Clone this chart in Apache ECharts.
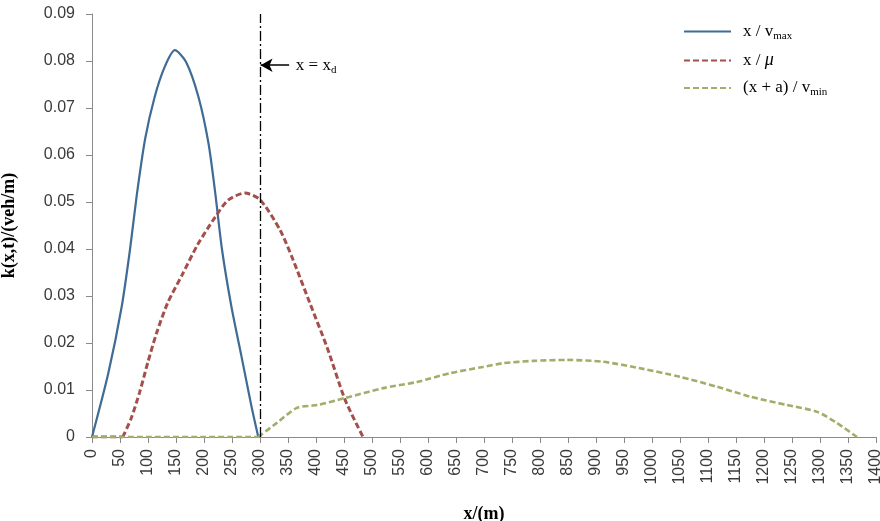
<!DOCTYPE html>
<html>
<head>
<meta charset="utf-8">
<script src="https://cdn.jsdelivr.net/npm/echarts@6/dist/echarts.min.js"></script>
<style>html,body{margin:0;padding:0;background:#fff;}#c{width:880px;height:521px;}</style>
</head>
<body>
<div id="c"></div>
<script>
// x/vmax (solid blue)
const blueX = [0, 29, 53, 68, 80, 95, 112, 130, 148, 168, 190, 208, 220, 232, 249, 267, 285, 297];
const blueY = [0, 0.0135, 0.0277, 0.040, 0.0515, 0.0635, 0.0724, 0.0788, 0.0823, 0.0798, 0.0724, 0.0625, 0.052, 0.040, 0.0277, 0.0171, 0.0064, 0];
// x/mu (dashed red); null breaks the flat zero run from the rising part
const redX = [0, 55, 55, 55, 70, 85, 100, 115, 135, 161, 189, 220, 243, 273, 300, 336, 359, 389, 420, 452, 484];
const redY = [0, 0, null, 0, 0.004, 0.0095, 0.016, 0.022, 0.0285, 0.0345, 0.041, 0.0468, 0.0504, 0.0519, 0.0505, 0.044, 0.0377, 0.0285, 0.019, 0.0079, 0];
// (x+a)/vmin (dashed green)
const greenX = [0, 297, 297, 297, 330, 366, 402, 452, 520, 580, 640, 698, 734, 788, 848, 913, 984, 1050, 1116, 1175, 1241, 1294, 1330, 1366];
const greenY = [0, 0, null, 0, 0.003, 0.0062, 0.0068, 0.0083, 0.0104, 0.0117, 0.0136, 0.0149, 0.0157, 0.0162, 0.0164, 0.016, 0.0145, 0.0128, 0.0107, 0.0086, 0.0068, 0.0054, 0.003, 0];
const xd = 300;
const arrowFrom = [352, 0.0791];
const arrowTo = [301, 0.0791];
const xTicks = {min: 0, max: 1400, interval: 50};
const yTicks = {min: 0, max: 0.09, interval: 0.01};

const pairs = (xs, ys) => xs.map((x, i) => [x, ys[i] === null ? '-' : ys[i]]);
const serif = 'Liberation Serif';
const sans = 'Liberation Sans';

const chart = echarts.init(document.getElementById('c'));
chart.setOption({
  animation: false,
  backgroundColor: '#fff',
  grid: {left: 92, right: 4, top: 14, bottom: 84, containLabel: false, outerBoundsMode: 'none'},
  legend: {
    orient: 'vertical', left: 683, top: 23, padding: 0,
    itemWidth: 47, itemHeight: 14, itemGap: 10,
    itemStyle: {opacity: 0},
    textStyle: {
      fontFamily: serif, fontSize: 17, color: '#000', padding: [0, 0, 0, 7],
      rich: {
        a: {fontFamily: serif, fontSize: 17, color: '#000', lineHeight: 20},
        i: {fontFamily: serif, fontSize: 18, fontStyle: 'italic', color: '#000', lineHeight: 20},
        s: {fontFamily: serif, fontSize: 11, color: '#000', lineHeight: 20, verticalAlign: 'bottom', padding: [6, 0, 0, 0]}
      }
    },
    formatter: function (name) {
      if (name === 'vmax') return '{a|x / v}{s|max}';
      if (name === 'mu') return '{a|x / }{i|μ}';
      return '{a|(x + a) / v}{s|min}';
    },
    data: ['vmax', 'mu', 'vmin']
  },
  xAxis: {
    type: 'value', min: xTicks.min, max: xTicks.max, interval: xTicks.interval,
    name: 'x/(m)', nameLocation: 'middle', nameGap: 68,
    nameTextStyle: {fontFamily: serif, fontWeight: 'bold', fontSize: 18, color: '#000'},
    axisLine: {lineStyle: {color: '#8a8a8a', width: 1}},
    axisTick: {show: true, length: 6, lineStyle: {color: '#8a8a8a'}},
    axisLabel: {rotate: 90, fontFamily: sans, fontSize: 16, color: '#3a3a3a', margin: 12,
      formatter: v => String(v), hideOverlap: false},
    splitLine: {show: false}
  },
  yAxis: {
    type: 'value', min: yTicks.min, max: yTicks.max, interval: yTicks.interval,
    name: 'k(x,t)/(veh/m)', nameLocation: 'middle', nameGap: 74,
    nameTextStyle: {fontFamily: serif, fontWeight: 'bold', fontSize: 18, color: '#000'},
    axisLine: {show: true, lineStyle: {color: '#8a8a8a', width: 1}},
    axisTick: {show: true, length: 6, lineStyle: {color: '#8a8a8a'}},
    axisLabel: {fontFamily: sans, fontSize: 16, color: '#3a3a3a', margin: 17,
      formatter: v => v === 0 ? '0' : v.toFixed(2)},
    splitLine: {show: false}
  },
  series: [
    {
      name: 'vmax', type: 'line', data: pairs(blueX, blueY), symbol: 'none', smooth: 0.25,
      lineStyle: {color: '#3f6b94', width: 2.2}, itemStyle: {color: '#3f6b94'},
      markLine: {
        silent: true, symbol: 'none', label: {show: false},
        lineStyle: {color: '#000', width: 1.3, type: [10, 3, 2, 3]},
        data: [{xAxis: xd}]
      }
    },
    {
      name: 'mu', type: 'line', data: pairs(redX, redY), symbol: 'none', smooth: 0.25,
      connectNulls: false,
      lineStyle: {color: '#a3504d', width: 3, type: [6, 3]}, itemStyle: {color: '#a3504d'},
      markLine: {
        silent: true, symbol: ['none', 'arrow'], symbolSize: [10, 12], label: {show: false},
        lineStyle: {color: '#000', width: 1.5, type: 'solid'},
        data: [[{coord: arrowFrom}, {coord: arrowTo}]]
      }
    },
    {
      name: 'vmin', type: 'line', data: pairs(greenX, greenY), symbol: 'none', smooth: 0.25,
      connectNulls: false,
      lineStyle: {color: '#a0ae6a', width: 2.6, type: [6, 3]}, itemStyle: {color: '#a0ae6a'}
    }
  ]
});

const p = chart.convertToPixel({gridIndex: 0}, [arrowFrom[0] + 12, arrowFrom[1]]);
chart.setOption({
  graphic: [{
    type: 'text', x: p[0], y: p[1],
    style: {
      text: '{a|x = x}{s|d}', verticalAlign: 'middle', align: 'left',
      rich: {
        a: {fontFamily: serif, fontSize: 17, color: '#000', lineHeight: 20},
        s: {fontFamily: serif, fontSize: 11, color: '#000', lineHeight: 20, verticalAlign: 'bottom', padding: [6, 0, 0, 0]}
      }
    }
  }]
});
</script>
</body>
</html>
